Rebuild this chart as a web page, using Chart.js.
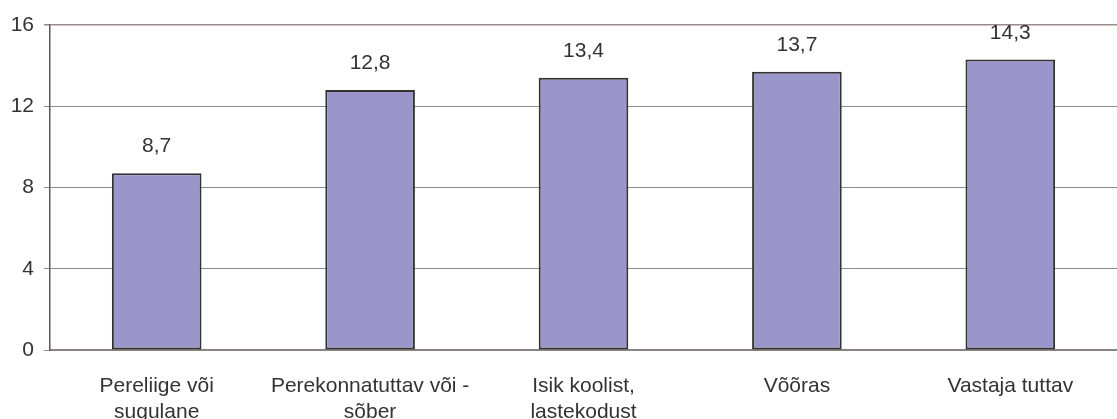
<!DOCTYPE html>
<html>
<head>
<meta charset="utf-8">
<script src="https://cdn.jsdelivr.net/npm/chart.js@4/dist/chart.umd.min.js"></script>
<style>
  html, body { margin: 0; padding: 0; background: #fff; }
  #wrap { width: 1117px; height: 419px; }
</style>
</head>
<body>
<div id="wrap"><canvas id="chart" width="1117" height="419"></canvas></div>
<script>
// categories (wrapped like the original)
var categories = [
  ['Pereliige või', 'sugulane'],
  ['Perekonnatuttav või -', 'sõber'],
  ['Isik koolist,', 'lastekodust'],
  ['Võõras'],
  ['Vastaja tuttav']
];
var values = [8.7, 12.8, 13.4, 13.7, 14.3];
var yTicks = [0, 4, 8, 12, 16];

var FONT = '"Liberation Sans", Arial, sans-serif';

// labels above bars, comma decimal
var valueLabels = {
  id: 'valueLabels',
  afterDatasetsDraw: function(chart) {
    var ctx = chart.ctx;
    var meta = chart.getDatasetMeta(0);
    ctx.save();
    ctx.font = '21px ' + FONT;
    ctx.fillStyle = '#333333';
    ctx.textAlign = 'center';
    ctx.textBaseline = 'alphabetic';
    meta.data.forEach(function(bar, i) {
      ctx.fillText(values[i].toFixed(1).replace('.', ','), bar.x, bar.y - 21);
    });
    ctx.restore();
  }
};

var ctx = document.getElementById('chart').getContext('2d');
var myChart = new Chart(ctx, {
  type: 'bar',
  data: {
    labels: categories,
    datasets: [{
      data: values,
      backgroundColor: '#9b96c9',
      borderColor: '#333333',
      borderWidth: 2,
      borderSkipped: false,
      categoryPercentage: 1,
      barPercentage: 0.42
    }]
  },
  options: {
    responsive: false,
    animation: false,
    layout: { padding: { top: 25, right: 0, left: 0, bottom: 0 } },
    plugins: {
      legend: { display: false },
      tooltip: { enabled: false }
    },
    scales: {
      x: {
        grid: { display: false },
        border: { display: true, color: '#8a7f7d', width: 1.5 },
        ticks: {
          color: '#333333',
          font: { family: FONT, size: 21, lineHeight: 1.24 },
          maxRotation: 0,
          autoSkip: false,
          padding: 15
        },
        afterFit: function(scale) { scale.height = 69; }
      },
      y: {
        min: 0,
        max: 16,
        afterBuildTicks: function(scale) {
          scale.ticks = yTicks.map(function(v) { return { value: v }; });
        },
        grid: {
          color: function(c) { return c.tick && c.tick.value === 16 ? '#9a8c88' : '#8c8c8c'; },
          lineWidth: function(c) { return c.tick && c.tick.value === 16 ? 1.5 : 1; },
          tickLength: 6,
          tickColor: '#8c8c8c'
        },
        border: { display: true, color: '#5f5654', width: 1.5 },
        ticks: {
          color: '#333333',
          font: { family: FONT, size: 21 },
          padding: 10
        },
        afterFit: function(scale) { scale.width = 50; }
      }
    }
  },
  plugins: [valueLabels]
});
</script>
</body>
</html>
